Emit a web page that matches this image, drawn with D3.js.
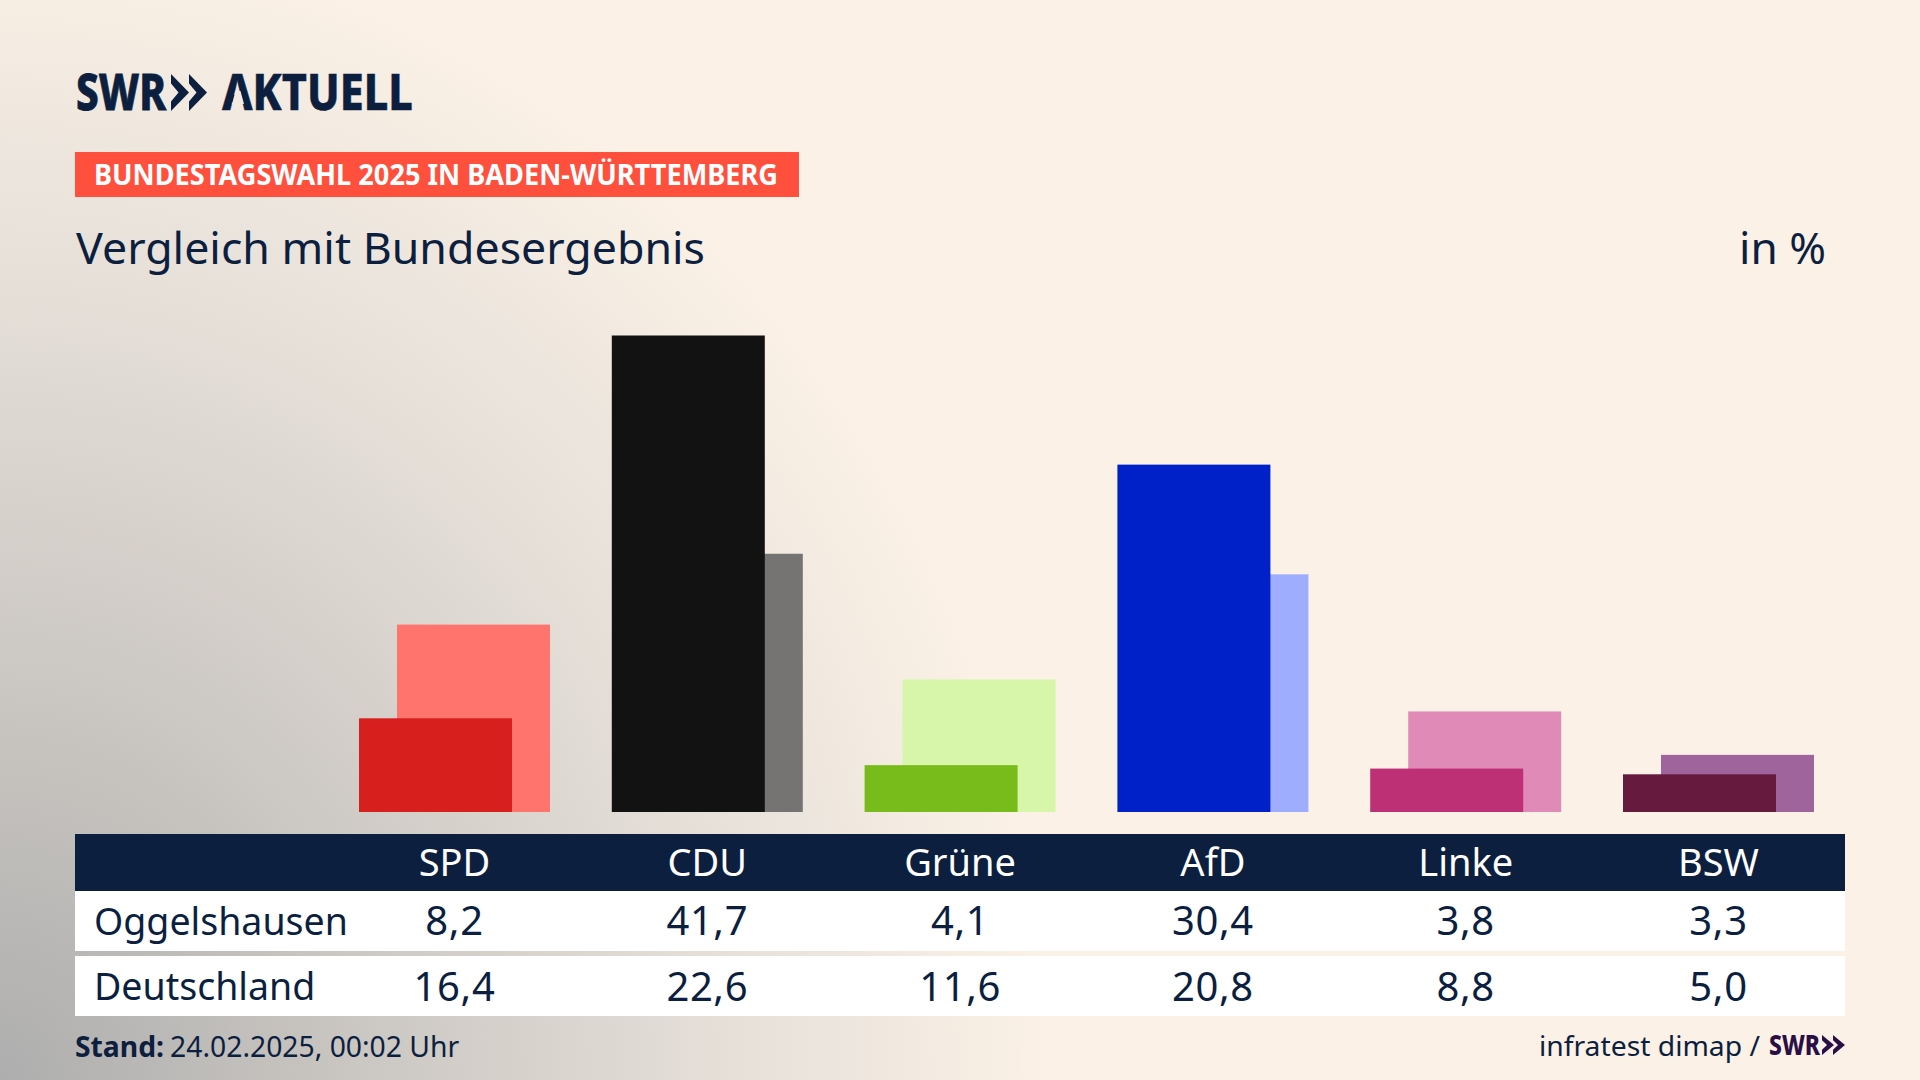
<!DOCTYPE html>
<html>
<head>
<meta charset="utf-8">
<script src="https://cdnjs.cloudflare.com/ajax/libs/d3/7.8.5/d3.min.js"></script>
<style>
  html, body { margin: 0; padding: 0; background: #fbf1e6; }
  svg { display: block; }
  text { font-family: "Noto Sans", sans-serif; fill: #0c1f3f; }
</style>
</head>
<body>
<svg></svg>
<script>

// values
var parties = ["SPD", "CDU", "Grüne", "AfD", "Linke", "BSW"]
var oggelshausen = [8.2, 41.7, 4.1, 30.4, 3.8, 3.3]
var deutschland = [16.4, 22.6, 11.6, 20.8, 8.8, 5.0]
var darkColors = ["#d71f1d", "#121212", "#78bc1b", "#0021c8", "#bd3075", "#661a3e"]
var lightColors = ["#ff746d", "#757473", "#d7f6aa", "#9fadff", "#e08ab8", "#a0649c"]
var rowLabels = ["Oggelshausen", "Deutschland"]

var width = 1920
var height = 1080
var navy = "#0c1f3f"

var svg = d3.select("svg")
            .attr("width", width)
            .attr("height", height)

// background: cream with a grey glow out of the bottom left corner
var defs = svg.append("defs")
var glow = defs.append("radialGradient")
               .attr("id", "glow")
               .attr("gradientUnits", "userSpaceOnUse")
               .attr("cx", 0).attr("cy", 0).attr("r", 1)
               .attr("gradientTransform", "translate(0,1080) scale(1050,1150)")
glow.selectAll("stop")
    .data([[0, "#aeaeae"], [0.35, "#cbc7c2"], [0.7, "#e6e0d9"], [1, "#fbf1e6"]])
    .enter().append("stop")
    .attr("offset", function(d){ return d[0] })
    .attr("stop-color", function(d){ return d[1] })

// knocks the crossbar out of the A in the logo
defs.append("clipPath").attr("id", "noBar")
    .append("path")
    .attr("clip-rule", "evenodd")
    .attr("d", "M200,60H430V125H200Z M232,104L244,104L240.5,91L235.5,91Z")

svg.append("rect").attr("width", width).attr("height", height).attr("fill", "#fbf1e6")
svg.append("rect").attr("width", width).attr("height", height).attr("fill", "url(#glow)")

var xScale = d3.scalePoint()
               .domain(parties)
               .range([454.5, 1718.5])

var yScale = d3.scaleLinear()
               .domain([0, 41.7])
               .range([812, 335.5])

var barWidth = 153
var offset = 19

// light bars (Deutschland) sit behind and to the right
svg.append("g").selectAll("rect")
   .data(deutschland)
   .enter().append("rect")
   .attr("x", function(d, i){ return xScale(parties[i]) - barWidth/2 + offset })
   .attr("y", function(d){ return yScale(d) })
   .attr("width", barWidth)
   .attr("height", function(d){ return yScale(0) - yScale(d) })
   .attr("fill", function(d, i){ return lightColors[i] })

svg.append("g").selectAll("rect")
   .data(oggelshausen)
   .enter().append("rect")
   .attr("x", function(d, i){ return xScale(parties[i]) - barWidth/2 - offset })
   .attr("y", function(d){ return yScale(d) })
   .attr("width", barWidth)
   .attr("height", function(d){ return yScale(0) - yScale(d) })
   .attr("fill", function(d, i){ return darkColors[i] })

// table
svg.append("rect").attr("x", 75).attr("y", 834).attr("width", 1770).attr("height", 57).attr("fill", navy)
svg.append("rect").attr("x", 75).attr("y", 891).attr("width", 1770).attr("height", 60).attr("fill", "#fff")
svg.append("rect").attr("x", 75).attr("y", 956).attr("width", 1770).attr("height", 60).attr("fill", "#fff")

var formatValue = function(v){ return v.toFixed(1).replace(".", ",") }

svg.append("g").selectAll("text")
   .data(parties)
   .enter().append("text")
   .attr("x", function(d){ return xScale(d) })
   .attr("y", 876)
   .attr("text-anchor", "middle")
   .attr("font-size", 38)
   .style("fill", "#fff")
   .text(function(d){ return d })

var rows = [oggelshausen, deutschland]
var rowY = [935, 1001]
rows.forEach(function(row, r){
  svg.append("text")
     .attr("x", 94).attr("y", rowY[r] - (r == 1 ? 1 : 0))
     .attr("font-size", 37.5)
     .text(rowLabels[r])
  svg.append("g").selectAll("text")
     .data(row)
     .enter().append("text")
     .attr("x", function(d, i){ return xScale(parties[i]) })
     .attr("y", rowY[r])
     .attr("text-anchor", "middle")
     .attr("font-size", 40)
     .attr("letter-spacing", 0.6)
     .text(formatValue)
})

// headings
var logoSize = 49
svg.append("text").attr("x", 76).attr("y", 110)
   .attr("font-size", logoSize).attr("font-weight", 800)
   .attr("textLength", 90).attr("lengthAdjust", "spacingAndGlyphs")
   .style("stroke", navy).style("stroke-width", 0.8)
   .text("SWR")
svg.append("text").attr("x", 222).attr("y", 110)
   .attr("font-size", logoSize).attr("font-weight", 800)
   .attr("textLength", 191).attr("lengthAdjust", "spacingAndGlyphs")
   .attr("clip-path", "url(#noBar)")
   .style("stroke", navy).style("stroke-width", 0.5)
   .text("AKTUELL")

// the chevrons of the logo
var chevron = function(x, y, w, h, color){
  var t = w * 0.42
  svg.append("path")
     .attr("d", "M" + x + "," + y + "L" + (x + w) + "," + (y + h/2) + "L" + x + "," + (y + h) +
                "V" + (y + h*0.74) + "L" + (x + t) + "," + (y + h/2) + "L" + x + "," + (y + h*0.26) + "Z")
     .attr("fill", color)
}
chevron(171, 74, 18, 37, navy)
chevron(189, 74, 18, 37, navy)

svg.append("rect").attr("x", 75).attr("y", 152).attr("width", 724).attr("height", 45).attr("fill", "#ff4f3d")
svg.append("text").attr("x", 94).attr("y", 185)
   .attr("font-size", 28).attr("font-weight", 700)
   .attr("textLength", 684).attr("lengthAdjust", "spacingAndGlyphs")
   .style("fill", "#fff")
   .text("BUNDESTAGSWAHL 2025 IN BADEN-WÜRTTEMBERG")

svg.append("text").attr("x", 76).attr("y", 264)
   .attr("font-size", 44)
   .attr("textLength", 629).attr("lengthAdjust", "spacingAndGlyphs")
   .text("Vergleich mit Bundesergebnis")

svg.append("text").attr("x", 1739).attr("y", 264)
   .attr("font-size", 44)
   .attr("textLength", 87).attr("lengthAdjust", "spacingAndGlyphs")
   .text("in %")

// footer
var stand = svg.append("text").attr("x", 75).attr("y", 1057).attr("font-size", 28.3)
stand.append("tspan").attr("font-weight", 700).text("Stand:")
stand.append("tspan").attr("dx", 6).text("24.02.2025, 00:02 Uhr")

svg.append("text").attr("x", 1539).attr("y", 1056)
   .attr("font-size", 28)
   .attr("textLength", 221).attr("lengthAdjust", "spacingAndGlyphs")
   .text("infratest dimap /")
svg.append("text").attr("x", 1769).attr("y", 1055)
   .attr("font-size", 28).attr("font-weight", 800)
   .attr("textLength", 51).attr("lengthAdjust", "spacingAndGlyphs")
   .style("fill", "#2a0f45")
   .text("SWR")
chevron(1822, 1035, 12, 20, "#2a0f45")
chevron(1833, 1035, 12, 20, "#2a0f45")

</script>
</body>
</html>
